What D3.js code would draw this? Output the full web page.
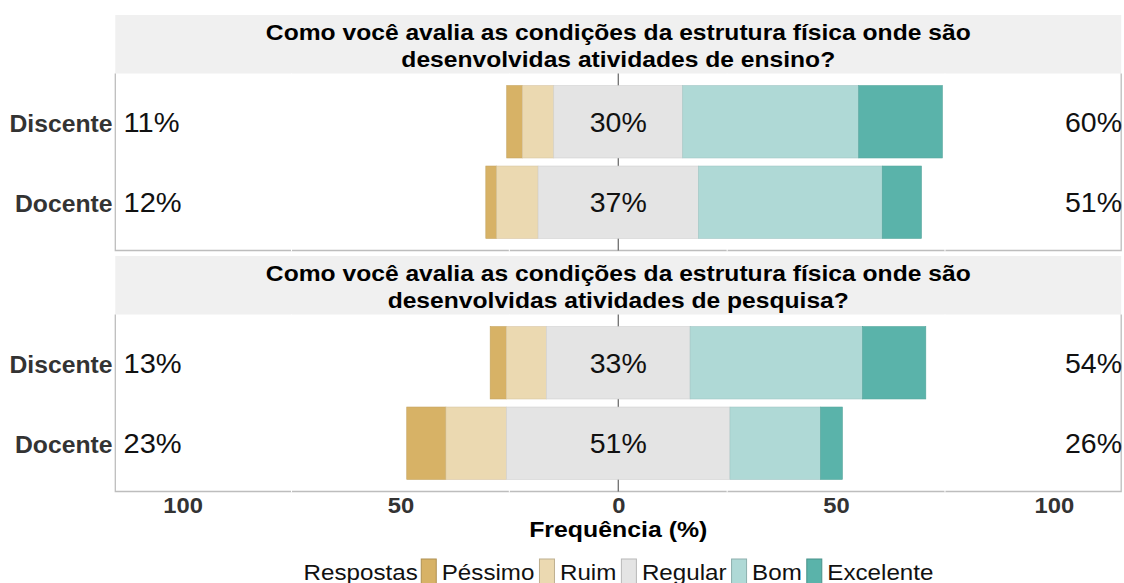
<!DOCTYPE html>
<html>
<head>
<meta charset="utf-8">
<script src="https://cdn.jsdelivr.net/npm/d3@7"></script>
<style>
  html, body { margin: 0; padding: 0; background: #ffffff; }
  svg { display: block; font-family: "Liberation Sans", Arial, sans-serif; }
</style>
</head>
<body>
<svg id="chart" width="1124" height="583"></svg>
<script>
// Groups shown on the vertical axis of each panel
const categories = ["Discente", "Docente"];

// Answer levels, from most negative to most positive
const responses = ["Péssimo", "Ruim", "Regular", "Bom", "Excelente"];
const responseColors = ["#d7b266", "#ebd9b1", "#e4e4e4", "#afd9d6", "#5ab3aa"];

// Panel titles (two lines each)
const titleEnsino = ["Como você avalia as condições da estrutura física onde são",
                     "desenvolvidas atividades de ensino?"];
const titlePesquisa = ["Como você avalia as condições da estrutura física onde são",
                       "desenvolvidas atividades de pesquisa?"];

// Percent of answers per level (Péssimo, Ruim, Regular, Bom, Excelente)
const ensinoDiscente   = [3.6, 7.2, 29.6, 40.4, 19.2];
const ensinoDocente    = [2.5, 9.5, 36.8, 42.2, 9.0];
const pesquisaDiscente = [3.7, 9.2, 33.0, 39.6, 14.5];
const pesquisaDocente  = [9.0, 13.9, 51.3, 20.8, 5.0];

// Frequency axis
const tickValues = [-100, -50, 0, 50, 100];
const tickLabels = ["100", "50", "0", "50", "100"];
const axisTitle = "Frequência (%)";
const legendTitle = "Respostas";

const panels = [
  { title: titleEnsino,   rows: { Discente: ensinoDiscente,   Docente: ensinoDocente } },
  { title: titlePesquisa, rows: { Discente: pesquisaDiscente, Docente: pesquisaDocente } }
];

const svg = d3.select("#chart");

const plotLeft = 115.3, plotRight = 1121.2;
const x = d3.scaleLinear().domain([-115.45, 115.45]).range([plotLeft, plotRight]);
const color = d3.scaleOrdinal().domain(responses).range(responseColors);

// Vertical layout of each facet: strip on top, plotting area below
const facetBoxes = [
  { stripTop: 15,  stripBottom: 73.5,  bottom: 250.5 },
  { stripTop: 256, stripBottom: 314.5, bottom: 491.5 }
];

// Text helper with horizontal scaling
function label(g, txt, xPos, yPos, opts) {
  const t = g.append("text")
    .attr("transform", `translate(${xPos},${yPos}) scale(${opts.sx || 1},1)`)
    .attr("text-anchor", opts.anchor || "middle")
    .attr("font-size", opts.size)
    .attr("font-weight", opts.weight || "normal")
    .attr("fill", opts.fill || "#000")
    .text(txt);
  return t;
}

const pct = v => Math.round(v) + "%";

panels.forEach((p, i) => {
  const box = facetBoxes[i];
  const g = svg.append("g");

  // strip
  g.append("rect")
    .attr("x", plotLeft).attr("y", box.stripTop)
    .attr("width", plotRight - plotLeft).attr("height", box.stripBottom - box.stripTop)
    .attr("fill", "#f0f0f0");
  p.title.forEach((line, k) => {
    label(g, line, x(0), box.stripTop + 24.5 + k * 27, { size: 22, weight: "bold", sx: 1.12, fill: "#000" });
  });

  const y = d3.scaleBand()
    .domain(categories)
    .range([box.stripBottom, box.bottom])
    .paddingInner(0.1)
    .paddingOuter(0.15);

  // panel border
  g.append("path")
    .attr("d", `M${plotLeft},${box.stripBottom}V${box.bottom}H${plotRight}V${box.stripBottom}`)
    .attr("fill", "none")
    .attr("stroke", "#bdbdbd")
    .attr("stroke-width", 1.3);

  // minor grid lines (white on the white panel)
  [-75, -25, 25, 75].forEach(v => {
    g.append("line")
      .attr("x1", x(v)).attr("x2", x(v))
      .attr("y1", box.stripBottom).attr("y2", box.bottom + 1)
      .attr("stroke", "#ffffff").attr("stroke-width", 1);
  });

  // zero line
  g.append("line")
    .attr("x1", x(0)).attr("x2", x(0))
    .attr("y1", box.stripBottom).attr("y2", box.bottom)
    .attr("stroke", "#555").attr("stroke-width", 1.1);

  categories.forEach(cat => {
    const vals = p.rows[cat];
    const half = vals[2] / 2;
    // stacked segments diverging from zero
    const segs = [
      { level: 0, x0: -half - vals[1] - vals[0], x1: -half - vals[1] },
      { level: 1, x0: -half - vals[1], x1: -half },
      { level: 2, x0: -half, x1: half },
      { level: 3, x0: half, x1: half + vals[3] },
      { level: 4, x0: half + vals[3], x1: half + vals[3] + vals[4] }
    ];
    g.selectAll(null)
      .data(segs)
      .enter().append("rect")
      .attr("x", d => x(d.x0))
      .attr("width", d => x(d.x1) - x(d.x0))
      .attr("y", y(cat))
      .attr("height", y.bandwidth())
      .attr("fill", d => color(responses[d.level]))
      .attr("stroke", d => d3.color(color(responses[d.level])).darker(0.25))
      .attr("stroke-width", 0.6);

    const cy = y(cat) + y.bandwidth() / 2;
    const base = cy + 10.2;
    label(g, pct(vals[0] + vals[1]), 123.5, base, { size: 28.5, anchor: "start", sx: 1.02, fill: "#111" });
    label(g, pct(vals[2]), x(0), base, { size: 28.5, anchor: "middle", fill: "#111" });
    label(g, pct(vals[3] + vals[4]), 1122, base, { size: 28.5, anchor: "end", fill: "#111" });

    // category label
    label(g, cat, 112.5, base, { size: 24, weight: "bold", anchor: "end", sx: 1.03, fill: "#333" });
  });
});

// bottom axis
const axisG = svg.append("g")
  .attr("transform", `translate(0,${facetBoxes[1].bottom})`)
  .call(d3.axisBottom(x).tickValues(tickValues).tickSize(0)
        .tickFormat((d, i) => tickLabels[i]));
axisG.select(".domain").remove();
axisG.selectAll(".tick text")
  .attr("y", 0).attr("dy", null)
  .attr("transform", "translate(0,21.5) scale(1.08,1)")
  .attr("font-size", 22)
  .attr("font-weight", "bold")
  .attr("font-family", "Liberation Sans, Arial, sans-serif")
  .attr("fill", "#333");

label(svg, axisTitle, x(0), 536.5, { size: 22, weight: "bold", sx: 1.13, fill: "#000" });

// legend
const legend = svg.append("g");
const lsx = 1.13, lsize = 21.4, keyW = 15, keyH = 26;
let cursor = 0;
const items = [];
const tTitle = label(legend, legendTitle, 0, 579.5, { size: lsize, anchor: "start", sx: lsx, fill: "#111" });
items.push({ node: tTitle, x: cursor });
cursor += tTitle.node().getComputedTextLength() * lsx + 3.5;
responses.forEach(r => {
  const key = legend.append("rect")
    .attr("y", 559).attr("width", keyW).attr("height", keyH)
    .attr("fill", color(r))
    .attr("stroke", d3.color(color(r)).darker(0.6))
    .attr("stroke-width", 1);
  items.push({ node: key, x: cursor, rect: true });
  cursor += keyW + 5.5;
  const t = label(legend, r, 0, 579.5, { size: lsize, anchor: "start", sx: lsx, fill: "#111" });
  items.push({ node: t, x: cursor });
  cursor += t.node().getComputedTextLength() * lsx + 5;
});
const totalW = cursor - 5;
const startX = 618.5 - totalW / 2;
items.forEach(it => {
  if (it.rect) it.node.attr("x", startX + it.x);
  else it.node.attr("transform", `translate(${startX + it.x},579.5) scale(${lsx},1)`);
});
</script>
</body>
</html>
